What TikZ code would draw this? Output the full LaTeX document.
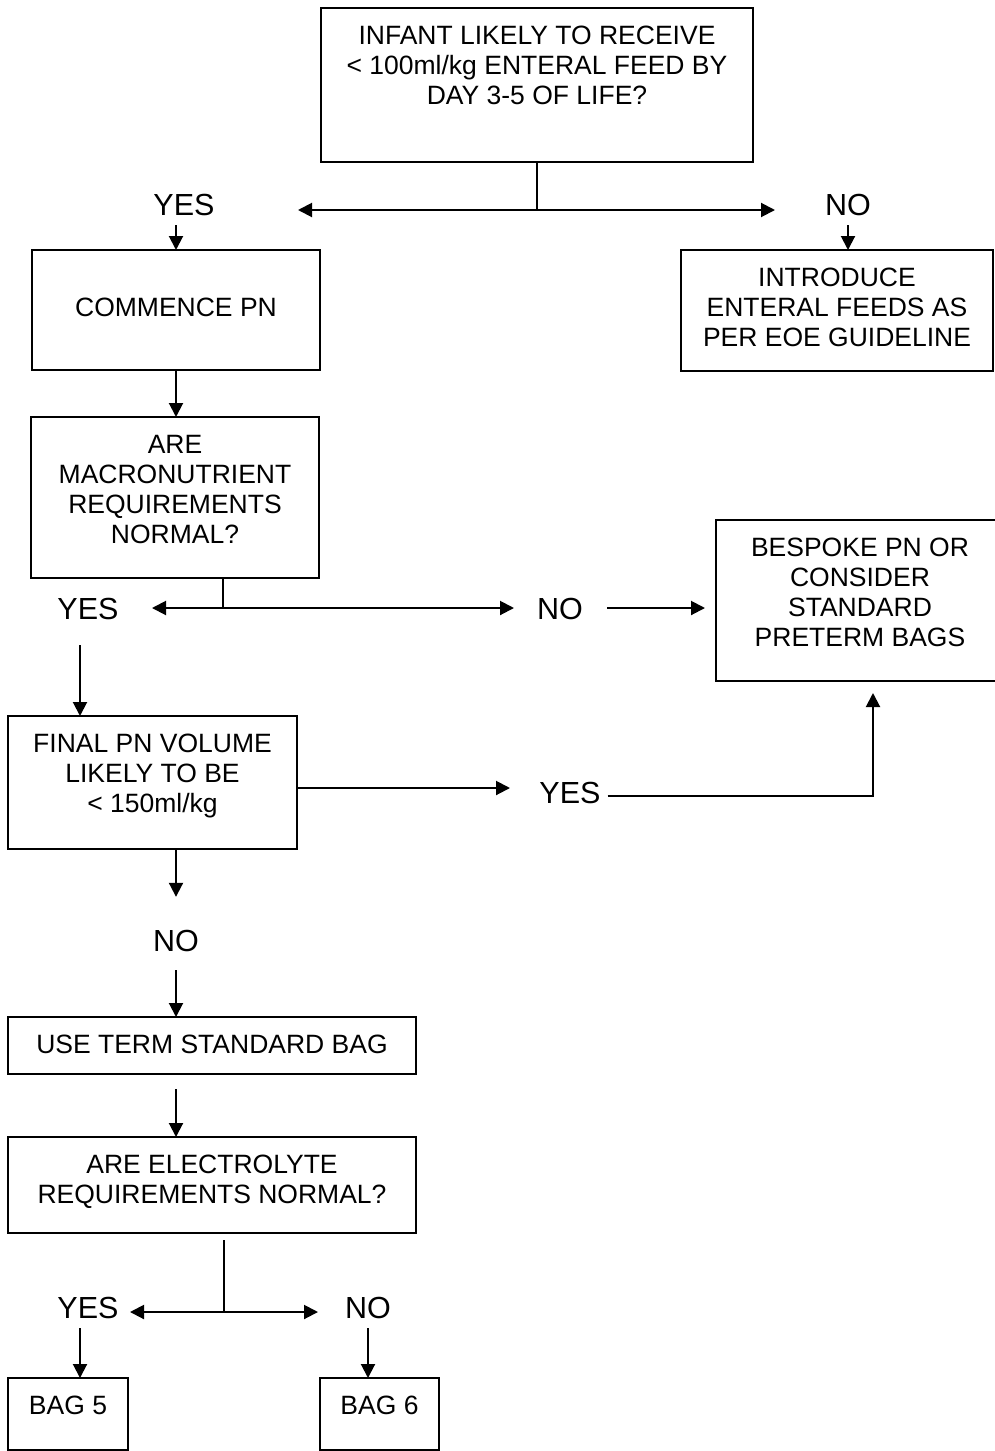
\documentclass[tikz,border=0pt]{standalone}
\usepackage{fontspec}
\setmainfont{Liberation Sans}
\usetikzlibrary{arrows.meta}
\newcommand{\boxtext}[3]{\begin{minipage}[c][#2pt][t]{#1pt}\centering\rule{0pt}{36.5pt}#3\end{minipage}}
\begin{document}
\begin{tikzpicture}[x=1pt,y=-1pt,
        box/.style={draw,line width=1.8pt,inner sep=0pt,outer sep=0pt,font=\fontsize{26.5}{30}\selectfont},
        lbl/.style={inner sep=10pt,text height=22pt,text depth=0pt,font=\fontsize{30.5}{34}\selectfont},
        arr/.style={line width=2pt,-{Triangle[length=14pt,width=14pt]}},
        stem/.style={line width=2pt}]
        \clip (0,0) rectangle (995,1451);
        \node[box] (feed) at (537,85) {\boxtext{432}{154}{INFANT LIKELY TO RECEIVE\\< 100ml/kg ENTERAL FEED BY\\DAY 3-5 OF LIFE?}};
        \node[box] (commence) at (176,310) {\boxtext{288}{120}{\mbox{}\\COMMENCE PN}};
        \node[box] (introduce) at (837,310.5) {\boxtext{312}{121}{INTRODUCE\\ENTERAL FEEDS AS\\PER EOE GUIDELINE}};
        \node[box] (macro) at (175,497.5) {\boxtext{288}{161}{ARE\\MACRONUTRIENT\\REQUIREMENTS\\NORMAL?}};
        \node[box] (bespoke) at (860,600.5) {\boxtext{288}{161}{BESPOKE PN OR\\CONSIDER\\STANDARD\\PRETERM BAGS}};
        \node[box] (final) at (152.5,782.5) {\boxtext{289}{133}{FINAL PN VOLUME\\LIKELY TO BE\\< 150ml/kg}};
        \node[box] (useterm) at (212,1045.5) {\boxtext{408}{57}{USE TERM STANDARD BAG}};
        \node[box] (electro) at (212,1185) {\boxtext{408}{96}{ARE ELECTROLYTE\\REQUIREMENTS NORMAL?}};
        \node[box] (bag5) at (68,1414) {\boxtext{120}{72}{BAG 5}};
        \node[box] (bag6) at (379.5,1414) {\boxtext{119}{72}{BAG 6}};
        \node[lbl] (yes1) at (184,204) {YES};
        \node[lbl] (no1) at (848,204) {NO};
        \node[lbl] (yes2) at (88,608) {YES};
        \node[lbl] (no2) at (560,608) {NO};
        \node[lbl] (yes3) at (570,792) {YES};
        \node[lbl] (no3) at (176,940) {NO};
        \node[lbl] (yes4) at (88,1307) {YES};
        \node[lbl] (no4) at (368,1307) {NO};
        \coordinate (j1) at (537,210);
        \coordinate (t1l) at (298,210);
        \coordinate (t1r) at (775,210);
        \coordinate (j2) at (223,608);
        \coordinate (t2l) at (152,608);
        \coordinate (t2r) at (514,608);
        \coordinate (t3) at (510,788);
        \coordinate (k3) at (873,796);
        \coordinate (j4) at (224,1312);
        \coordinate (t4l) at (130,1312);
        \coordinate (t4r) at (318,1312);
        \draw[stem] (feed.south) -- (j1);
        \draw[arr] (j1) -- (t1l);
        \draw[arr] (j1) -- (t1r);
        \draw[arr] (yes1.south -| commence.north) -- (commence.north);
        \draw[arr] (no1.south) -- (no1.south |- introduce.north);
        \draw[arr] (commence.south) -- (commence.south |- macro.north);
        \draw[stem] (j2 |- macro.south) -- (j2);
        \draw[arr] (j2) -- (t2l);
        \draw[arr] (j2) -- (t2r);
        \draw[arr,shorten <=14pt,shorten >=11pt] (no2.east) -- (no2.east -| bespoke.west);
        \draw[arr,shorten <=16pt] ([xshift=-8pt]yes2.south) -- ([xshift=-8pt]yes2.south |- final.north);
        \draw[arr] (t3 -| final.east) -- (t3);
        \draw[arr,shorten <=-3pt,shorten >=12pt] (yes3.east |- k3) -- (k3) -- (k3 |- bespoke.south);
        \draw[arr,shorten >=22pt] (no3.north |- final.south) -- (no3.north);
        \draw[arr,shorten <=9pt] (no3.south) -- (no3.south |- useterm.north);
        \draw[arr,shorten <=15pt] (no3 |- useterm.south) -- (no3 |- electro.north);
        \draw[stem,shorten <=7pt] (j4 |- electro.south) -- (j4);
        \draw[arr] (j4) -- (t4l);
        \draw[arr] (j4) -- (t4r);
        \draw[arr] ([xshift=-8pt]yes4.south) -- ([xshift=-8pt]yes4.south |- bag5.north);
        \draw[arr] (no4.south) -- (no4.south |- bag6.north);
\end{tikzpicture}
\end{document}
